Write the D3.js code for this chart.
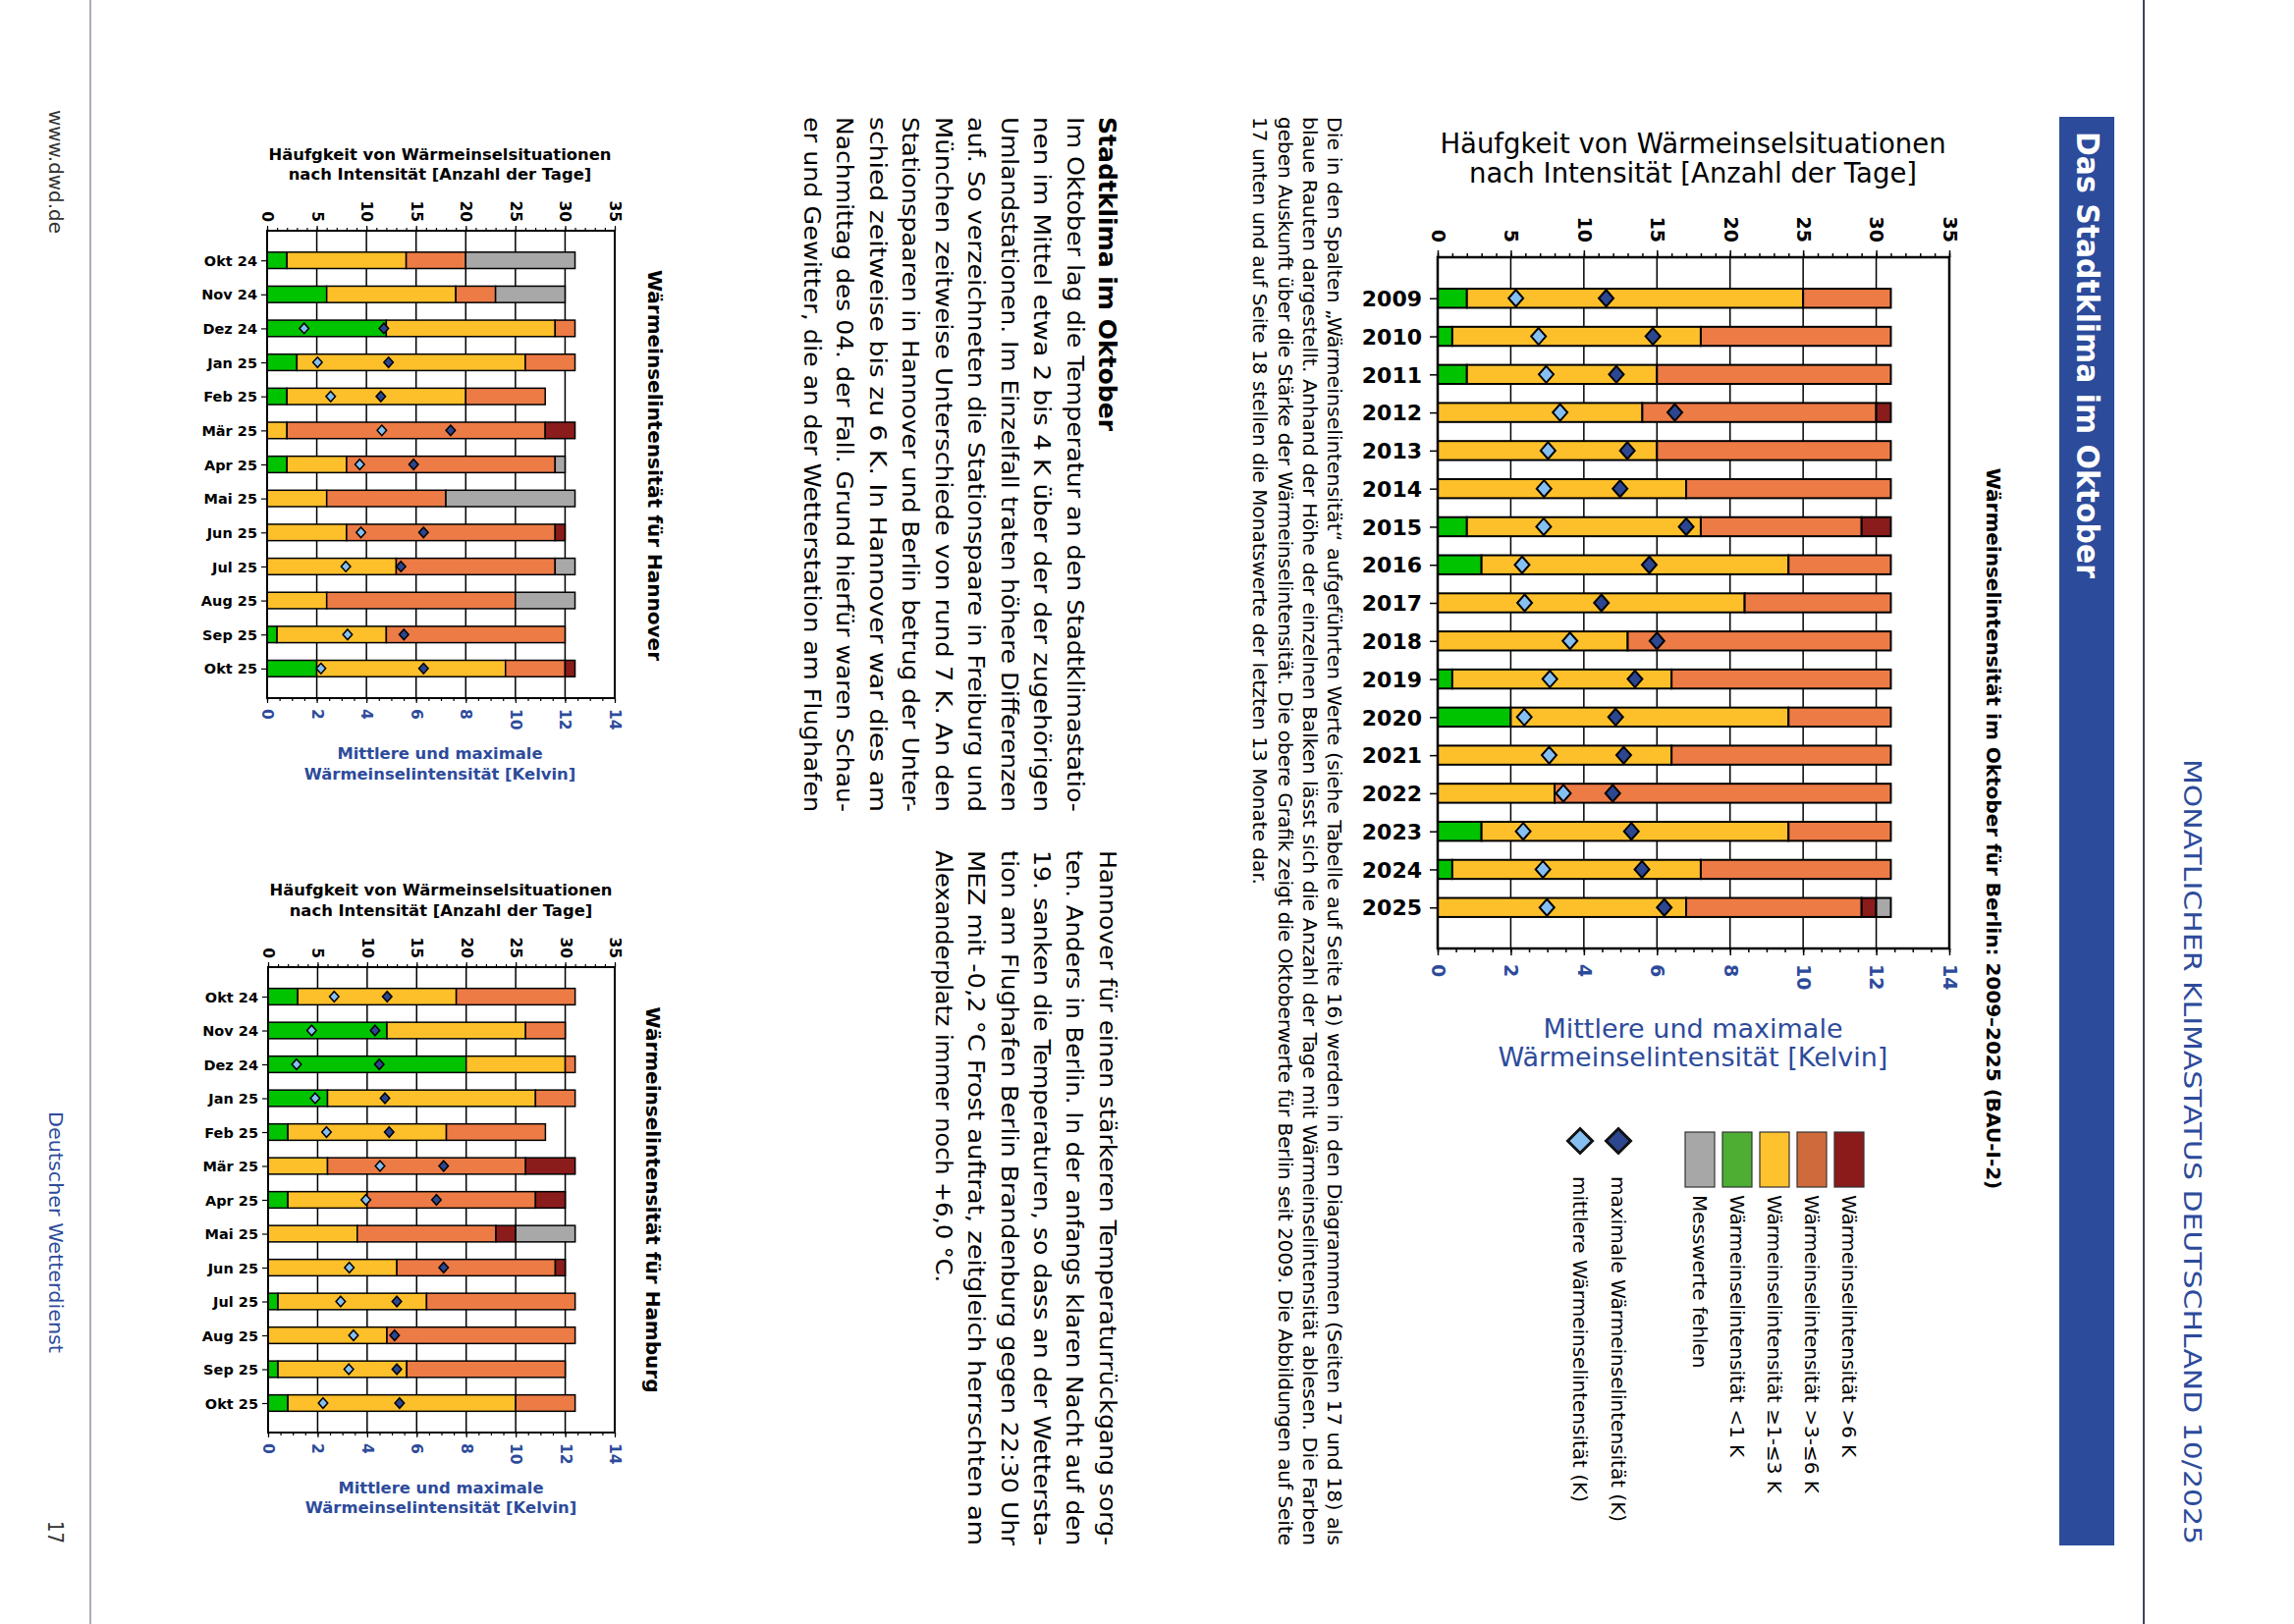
<!DOCTYPE html>
<html><head><meta charset="utf-8">
<script src="https://cdn.jsdelivr.net/npm/d3@7"></script>
<style>body{margin:0;background:#fff}svg{display:block}</style>
</head><body>
<svg id="c" width="2336" height="1654"></svg>
<script>
// ---------------- DATA ----------------
const berlinYears = ["2009","2010","2011","2012","2013","2014","2015","2016","2017","2018","2019","2020","2021","2022","2023","2024","2025"];
const berlinLt1   = [2,1,2,0,0,0,2,3,0,0,1,5,0,0,3,1,0];
const berlin1to3  = [23,17,13,14,15,17,16,21,21,13,15,19,16,8,21,17,17];
const berlin3to6  = [6,13,16,16,16,14,11,7,10,18,15,7,15,23,7,13,12];
const berlinGt6   = [0,0,0,1,0,0,2,0,0,0,0,0,0,0,0,0,1];
const berlinNA    = [0,0,0,0,0,0,0,0,0,0,0,0,0,0,0,0,1];
const berlinMean  = [2.14,2.76,2.97,3.35,3.02,2.91,2.90,2.31,2.38,3.62,3.07,2.37,3.05,3.44,2.34,2.88,2.99];
const berlinMax   = [4.61,5.89,4.89,6.49,5.19,4.99,6.80,5.79,4.48,6.00,5.40,4.87,5.09,4.79,5.30,5.59,6.20];

const months = ["Okt 24","Nov 24","Dez 24","Jan 25","Feb 25","Mär 25","Apr 25","Mai 25","Jun 25","Jul 25","Aug 25","Sep 25","Okt 25"];
const hanLt1  = [2,6,12,3,2,0,2,0,0,0,0,1,5];
const han1to3 = [12,13,17,23,18,2,6,6,8,13,6,11,19];
const han3to6 = [6,4,2,5,8,26,21,12,21,16,19,18,6];
const hanGt6  = [0,0,0,0,0,3,0,0,1,0,0,0,1];
const hanNA   = [11,7,0,0,0,0,1,13,0,2,6,0,0];
const hanMean = [null,null,1.49,2.03,2.56,4.62,3.73,null,3.78,3.17,null,3.24,2.17];
const hanMax  = [null,null,4.70,4.89,4.58,7.39,5.90,null,6.30,5.39,null,5.51,6.30];

const hamLt1  = [3,12,20,6,2,0,2,0,0,1,0,1,2];
const ham1to3 = [16,14,10,21,16,6,8,9,13,15,12,13,23];
const ham3to6 = [12,4,1,4,10,20,17,14,16,15,19,16,6];
const hamGt6  = [0,0,0,0,0,5,3,2,1,0,0,0,0];
const hamNA   = [0,0,0,0,0,0,0,6,0,0,0,0,0];
const hamMean = [2.67,1.76,1.15,1.90,2.36,4.52,3.95,null,3.28,2.93,3.45,3.26,2.22];
const hamMax  = [4.81,4.32,4.49,4.72,4.89,7.09,6.80,null,7.09,5.20,5.11,5.20,5.31];

const dayTicks = [0,5,10,15,20,25,30,35];
const kelvinTicks = [0,2,4,6,8,10,12,14];

const legendLabels = ["Wärmeinselintensität >6 K","Wärmeinselintensität >3-≤6 K","Wärmeinselintensität ≥1-≤3 K","Wärmeinselintensität <1 K","Messwerte fehlen"];
const diamondLabels = ["maximale Wärmeinselintensität (K)","mittlere Wärmeinselintensität (K)"];

const descLines = [
 "Die in den Spalten „Wärmeinselintensität“ aufgeführten Werte (siehe Tabelle auf Seite 16) werden in den Diagrammen (Seiten 17 und 18) als",
 "blaue Rauten dargestellt. Anhand der Höhe der einzelnen Balken lässt sich die Anzahl der Tage mit Wärmeinselintensität ablesen. Die Farben",
 "geben Auskunft über die Stärke der Wärmeinselintensität. Die obere Grafik zeigt die Oktoberwerte für Berlin seit 2009. Die Abbildungen auf Seite",
 "17 unten und auf Seite 18 stellen die Monatswerte der letzten 13 Monate dar."
];
const heading = "Stadtklima im Oktober";
const col1 = [
 "Im Oktober lag die Temperatur an den Stadtklimastatio-",
 "nen im Mittel etwa 2 bis 4 K über der der zugehörigen",
 "Umlandstationen. Im Einzelfall traten höhere Differenzen",
 "auf. So verzeichneten die Stationspaare in Freiburg und",
 "München zeitweise Unterschiede von rund 7 K. An den",
 "Stationspaaren in Hannover und Berlin betrug der Unter-",
 "schied zeitweise bis zu 6 K. In Hannover war dies am",
 "Nachmittag des 04. der Fall. Grund hierfür waren Schau-",
 "er und Gewitter, die an der Wetterstation am Flughafen"
];
const col2 = [
 "Hannover für einen stärkeren Temperaturrückgang sorg-",
 "ten. Anders in Berlin. In der anfangs klaren Nacht auf den",
 "19. sanken die Temperaturen, so dass an der Wettersta-",
 "tion am Flughafen Berlin Brandenburg gegen 22:30 Uhr",
 "MEZ mit -0,2 °C Frost auftrat, zeitgleich herrschten am",
 "Alexanderplatz immer noch +6,0 °C."
];

// ---------------- STYLE ----------------
const barColors = {lt1:"#00c300", k1to3:"#fec02a", k3to6:"#ed7b45", gt6:"#8b1c1c", na:"#a8a8a8"};
const legColors = ["#8b1a1a","#cf6b3b","#fdc22d","#4dae33","#a7a7a7"];
const lightBlue = "#86c0f2", darkBlue = "#2c4690", textBlue = "#2d4b9b";
const SANS = "DejaVu Sans, Verdana, sans-serif";
const COND = "'DejaVu Sans Condensed', 'Liberation Sans Narrow', 'Roboto Condensed', 'Open Sans', sans-serif";

const svg = d3.select("#c");
svg.append("rect").attr("width",2336).attr("height",1654).attr("fill","#fff");

function vtext(parent, x, y, str, o) {
  const t = parent.append("text")
    .attr("transform", `translate(${x},${y}) rotate(90)`)
    .attr("dy", "0.35em")
    .attr("text-anchor", o.anchor || "start")
    .attr("font-family", o.family || SANS)
    .attr("font-size", o.size)
    .attr("font-weight", o.weight || "normal")
    .attr("fill", o.fill || "#000")
    .text(str);
  if (o.len) t.attr("textLength", o.len).attr("lengthAdjust", "spacingAndGlyphs");
  if (o.ls) t.attr("letter-spacing", o.ls);
  return t;
}
function htext(parent, x, y, str, o) {
  return parent.append("text").attr("x", x).attr("y", y).attr("dy","0.35em")
    .attr("text-anchor", o.anchor || "middle").attr("font-family", o.family || SANS)
    .attr("font-size", o.size).attr("font-weight", o.weight || "normal")
    .attr("fill", o.fill || "#000").text(str);
}

// ---------------- CHART ----------------
function drawChart(cfg) {
  const g = svg.append("g");
  const xD = d3.scaleLinear().domain([0,35]).range([cfg.xL, cfg.xR]);
  const xK = d3.scaleLinear().domain([0,14]).range([cfg.xL, cfg.xR]);
  const y = d3.scalePoint().domain(cfg.cats).range([cfg.yT, cfg.yB]).padding(cfg.pad);

  // grid
  g.append("g").selectAll("line").data(dayTicks.slice(1,-1)).join("line")
    .attr("x1", d => xD(d)).attr("x2", d => xD(d))
    .attr("y1", cfg.yT).attr("y2", cfg.yB)
    .attr("stroke", "#000").attr("stroke-width", cfg.gridW);

  const rows = cfg.cats.map((c,i) => ({cat:c, lt1:cfg.lt1[i], k1to3:cfg.k1to3[i], k3to6:cfg.k3to6[i], gt6:cfg.gt6[i], na:cfg.na[i], mean:cfg.mean[i], max:cfg.max[i]}));
  const series = d3.stack().keys(["lt1","k1to3","k3to6","gt6","na"])(rows);
  g.append("g").selectAll("g").data(series).join("g").attr("fill", s => barColors[s.key])
    .selectAll("rect").data(s => s.filter(d => d[1] > d[0])).join("rect")
    .attr("x", d => xD(d[0])).attr("width", d => xD(d[1]) - xD(d[0]))
    .attr("y", d => y(d.data.cat) - cfg.barH/2).attr("height", cfg.barH)
    .attr("stroke", "#000").attr("stroke-width", cfg.barSW);

  const dia = (v, c) => { const cx = xK(v), cy = y(c), w = cfg.dw, h = cfg.dh;
    return `M${cx},${cy-h}L${cx+w},${cy}L${cx},${cy+h}L${cx-w},${cy}Z`; };
  g.append("g").selectAll("path").data(rows.filter(d => d.mean != null)).join("path")
    .attr("d", d => dia(d.mean, d.cat)).attr("fill", lightBlue).attr("stroke", "#000").attr("stroke-width", cfg.dSW);
  g.append("g").selectAll("path").data(rows.filter(d => d.max != null)).join("path")
    .attr("d", d => dia(d.max, d.cat)).attr("fill", darkBlue).attr("stroke", "#000").attr("stroke-width", cfg.dSW);

  // frame
  g.append("rect").attr("x", cfg.xL).attr("y", cfg.yT).attr("width", cfg.xR - cfg.xL).attr("height", cfg.yB - cfg.yT)
    .attr("fill", "none").attr("stroke", "#000").attr("stroke-width", cfg.frameW);

  const styleAxis = (sel, w) => { sel.select(".domain").remove(); sel.selectAll("line").attr("stroke","#000").attr("stroke-width", w); };

  // top axis (days)
  g.append("g").attr("transform", `translate(0,${cfg.yT})`)
    .call(d3.axisTop(xD).tickValues(d3.range(0,36)).tickSize(cfg.minor).tickFormat(""))
    .call(s => styleAxis(s, cfg.tickW));
  const top = g.append("g").attr("transform", `translate(0,${cfg.yT})`)
    .call(d3.axisTop(xD).tickValues(dayTicks).tickSize(cfg.major))
    .call(s => styleAxis(s, cfg.tickW));
  top.attr("font-family", SANS).attr("font-size", cfg.tickFont).attr("font-weight", "bold");
  top.selectAll("text").attr("transform", "rotate(90)").attr("x", -cfg.topGap).attr("y", 0)
    .attr("dy", "0.35em").attr("text-anchor", "end").attr("fill", "#000");

  // bottom axis (Kelvin)
  g.append("g").attr("transform", `translate(0,${cfg.yB})`)
    .call(d3.axisBottom(xK).tickValues(d3.range(0,14.01,0.5)).tickSize(cfg.minor).tickFormat(""))
    .call(s => styleAxis(s, cfg.tickW));
  const bot = g.append("g").attr("transform", `translate(0,${cfg.yB})`)
    .call(d3.axisBottom(xK).tickValues(kelvinTicks).tickSize(cfg.major))
    .call(s => styleAxis(s, cfg.tickW));
  bot.attr("font-family", SANS).attr("font-size", cfg.tickFont).attr("font-weight", "bold");
  bot.selectAll("text").attr("transform", "rotate(90)").attr("x", cfg.botGap).attr("y", 0)
    .attr("dy", "0.35em").attr("text-anchor", "start").attr("fill", textBlue);

  // left axis (categories)
  const left = g.append("g").attr("transform", `translate(${cfg.xL},0)`)
    .call(d3.axisLeft(y).tickSize(cfg.catTick).tickPadding(cfg.catPad))
    .call(s => styleAxis(s, cfg.tickW));
  left.attr("font-family", SANS).attr("font-size", cfg.catFont).attr("font-weight", "bold");
  left.selectAll("text").attr("fill", "#000").attr("dy", "0.35em");

  // titles
  const tcx = cfg.titleX;
  cfg.title.forEach((t,i) => htext(g, tcx, cfg.titleY[i], t, {size: cfg.titleFont, weight: cfg.titleWeight}));
  cfg.xTitle.forEach((t,i) => htext(g, tcx, cfg.xTitleY[i], t, {size: cfg.xTitleFont, weight: cfg.titleWeight, fill: textBlue}));
  vtext(g, cfg.sideX, cfg.sideY, cfg.side, {size: cfg.sideFont, weight: "bold", anchor: "middle"});
}

const titleLines = ["Häufgkeit von Wärmeinselsituationen","nach Intensität [Anzahl der Tage]"];
const xTitleLines = ["Mittlere und maximale","Wärmeinselintensität [Kelvin]"];

drawChart({cats: berlinYears, lt1: berlinLt1, k1to3: berlin1to3, k3to6: berlin3to6, gt6: berlinGt6, na: berlinNA, mean: berlinMean, max: berlinMax,
  xL: 1464, xR: 1985, yT: 262, yB: 966, pad: 1.077, barH: 19.4, barSW: 2, gridW: 1.5, frameW: 2.5,
  dw: 7.5, dh: 8.5, dSW: 2, minor: 4, major: 7, tickW: 1.5, tickFont: 19, topGap: 15, botGap: 16,
  catTick: 8, catPad: 8, catFont: 22,
  title: titleLines, titleX: 1724, titleY: [146.7, 176.7], titleFont: 27.5, titleWeight: "normal",
  xTitle: xTitleLines, xTitleY: [1048, 1077], xTitleFont: 27,
  side: "Wärmeinselintensität im Oktober für Berlin: 2009–2025 (BAU-I-2)", sideX: 2030, sideY: 844, sideFont: 20});

drawChart({cats: months, lt1: hanLt1, k1to3: han1to3, k3to6: han3to6, gt6: hanGt6, na: hanNA, mean: hanMean, max: hanMax,
  xL: 272, xR: 626, yT: 235, yB: 711, pad: 0.87, barH: 16.7, barSW: 1.5, gridW: 1.5, frameW: 2,
  dw: 4.8, dh: 5.3, dSW: 1.5, minor: 3, major: 5, tickW: 1.2, tickFont: 15.5, topGap: 9, botGap: 11,
  catTick: 6, catPad: 4, catFont: 14.5,
  title: titleLines, titleX: 448, titleY: [157.3, 177.3], titleFont: 16.4, titleWeight: "bold",
  xTitle: xTitleLines, xTitleY: [767.3, 788.3], xTitleFont: 16.4,
  side: "Wärmeinselintensität für Hannover", sideX: 667, sideY: 474, sideFont: 20});

drawChart({cats: months, lt1: hamLt1, k1to3: ham1to3, k3to6: ham3to6, gt6: hamGt6, na: hamNA, mean: hamMean, max: hamMax,
  xL: 273, xR: 626, yT: 985, yB: 1459, pad: 0.87, barH: 16.7, barSW: 1.5, gridW: 1.5, frameW: 2,
  dw: 4.8, dh: 5.3, dSW: 1.5, minor: 3, major: 5, tickW: 1.2, tickFont: 15.5, topGap: 9, botGap: 11,
  catTick: 6, catPad: 4, catFont: 14.5,
  title: titleLines, titleX: 449, titleY: [906.7, 927.3], titleFont: 16.4, titleWeight: "bold",
  xTitle: xTitleLines, xTitleY: [1515, 1535], xTitleFont: 16.4,
  side: "Wärmeinselintensität für Hamburg", sideX: 665, sideY: 1222, sideFont: 20});

// ---------------- LEGEND ----------------
const leg = svg.append("g");
legendLabels.forEach((lab, i) => {
  const x = 1868 - i * 38;
  leg.append("rect").attr("x", x).attr("y", 1153).attr("width", 30).attr("height", 56)
    .attr("fill", legColors[i]).attr("stroke", "#333").attr("stroke-width", 1.2);
  vtext(leg, x + 15, 1217, lab, {size: 20});
});
[darkBlue, lightBlue].forEach((col, i) => {
  const cx = 1648 - i * 39, cy = 1162, h = 12.5;
  leg.append("path").attr("d", `M${cx},${cy-h}L${cx+h},${cy}L${cx},${cy+h}L${cx-h},${cy}Z`)
    .attr("fill", col).attr("stroke", "#111").attr("stroke-width", 3);
  vtext(leg, cx, 1198, diamondLabels[i], {size: 20});
});

// ---------------- PAGE TEXT ----------------
const page = svg.append("g");
page.append("line").attr("x1", 92).attr("x2", 92).attr("y1", 0).attr("y2", 1654).attr("stroke", "#8a90a0").attr("stroke-width", 1.5);
page.append("line").attr("x1", 2183).attr("x2", 2183).attr("y1", 0).attr("y2", 1654).attr("stroke", "#3d4660").attr("stroke-width", 2);
page.append("rect").attr("x", 2097).attr("y", 119).attr("width", 56).attr("height", 1455).attr("fill", "#2c4b9b");
vtext(page, 2126, 134, "Das Stadtklima im Oktober", {size: 32, weight: "bold", fill: "#fff", family: COND, len: 455});
vtext(page, 2233, 773, "MONATLICHER KLIMASTATUS DEUTSCHLAND  10/2025", {size: 25, fill: textBlue, family: COND, len: 800});
vtext(page, 57, 112, "www.dwd.de", {size: 20, fill: "#333", family: COND, len: 126});
vtext(page, 57, 1132, "Deutscher Wetterdienst", {size: 20, fill: textBlue, family: COND, len: 246});
vtext(page, 57, 1549, "17", {size: 22, fill: "#333", family: COND, len: 23});

descLines.forEach((t, i) => {
  vtext(page, 1359 - i * 25.3, 119, t, {size: 19, family: COND, len: i < descLines.length - 1 ? 1455 : 782});
});
vtext(page, 1128, 119, heading, {size: 25, weight: "bold", family: COND, len: 320});
col1.forEach((t, i) => {
  vtext(page, 1094.6 - i * 33.45, 119, t, {size: 23, family: COND, len: 708});
});
col2.forEach((t, i) => {
  vtext(page, 1128 - i * 33.45, 866, t, {size: 23, family: COND, len: i < col2.length - 1 ? 708 : 440});
});
</script>
</body></html>
